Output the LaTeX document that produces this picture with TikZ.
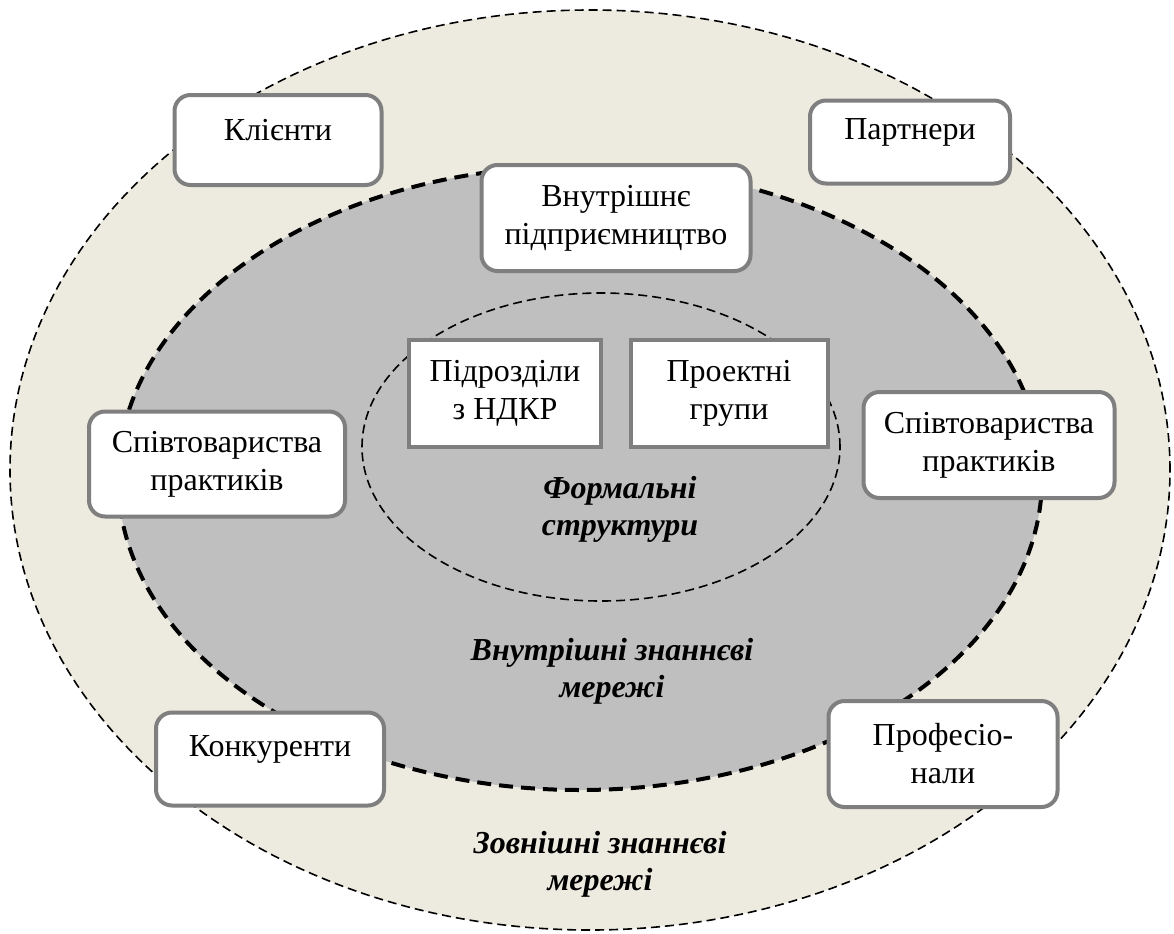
\documentclass[tikz,border=0pt]{standalone}
\usepackage{fontspec}
\setmainfont{Liberation Serif}
\definecolor{c1}{HTML}{EDEBE0}
\definecolor{c2}{HTML}{BFBFBF}
\definecolor{c3}{HTML}{7F7F7F}
\newcommand{\liftline}[1]{\raisebox{5pt}[\height][\depth]{#1}}
\tikzset{
  box_round/.style={rectangle, draw=c3, fill=white, line width=2pt, rounded corners=8pt, align=center, inner sep=2pt, font=\fontsize{16}{19}\selectfont},
  box_square/.style={box_round, sharp corners},
  net_label/.style={align=center, inner sep=1pt, font=\fontsize{16}{18.5}\selectfont\bfseries\itshape},
  ring_thin/.style={draw=black, line width=0.8pt, dash pattern=on 4.5pt off 2.5pt},
  ring_thick/.style={draw=black, line width=2pt, dash pattern=on 7pt off 4pt},
}

\begin{document}
\begin{tikzpicture}[x=0.5pt, y=-0.5pt]
	\useasboundingbox (0,0) rectangle (1174,933);

	% three nested networks
	\filldraw[fill=c1, ring_thin] (590,470) ellipse [x radius=290pt, y radius=230pt];
	\filldraw[fill=c2, ring_thick] (580,478) ellipse [x radius=231pt, y radius=156pt];
	\draw[ring_thin] (601,447) ellipse [x radius=119.5pt, y radius=77pt];

	\node[net_label] (formal) at (620,509) {Формальні\\структури};
	\node[net_label] (inner) at (612,671) {Внутрішні знаннєві\\мережі};
	\node[net_label] (outer) at (600,864) {Зовнішні знаннєві\\мережі};

	% outer ring
	\node[box_round, minimum width=103.5pt, minimum height=45pt] (klienty) at (278,140) {\liftline{Клієнти}};
	\node[box_round, minimum width=100pt, minimum height=41.5pt] (partnery) at (910,142) {\liftline{Партнери}};
	\node[box_round, minimum width=114pt, minimum height=46.5pt] (konkurenty) at (270,759) {\liftline{Конкуренти}};
	\node[box_round, minimum width=114.5pt, minimum height=53pt] (profesionaly) at (943,754) {Професіо-\\нали};

	% middle ring
	\node[box_round, minimum width=134.5pt, minimum height=53pt] (pidpryiemn) at (616,218) {Внутрішнє\\підприємництво};
	\node[box_round, minimum width=128pt, minimum height=52.5pt] (spivtov_l) at (217,464) {Співтовариства\\практиків};
	\node[box_round, minimum width=125.5pt, minimum height=53pt] (spivtov_r) at (989,445) {Співтовариства\\практиків};

	% inner ring
	\node[box_square, minimum width=96pt, minimum height=53.5pt] (pidrozdily) at (505,393) {Підрозділи\\з НДКР};
	\node[box_square, minimum width=98.5pt, minimum height=53.5pt] (proektni) at (729,393) {Проектні\\групи};

\end{tikzpicture}
\end{document}
